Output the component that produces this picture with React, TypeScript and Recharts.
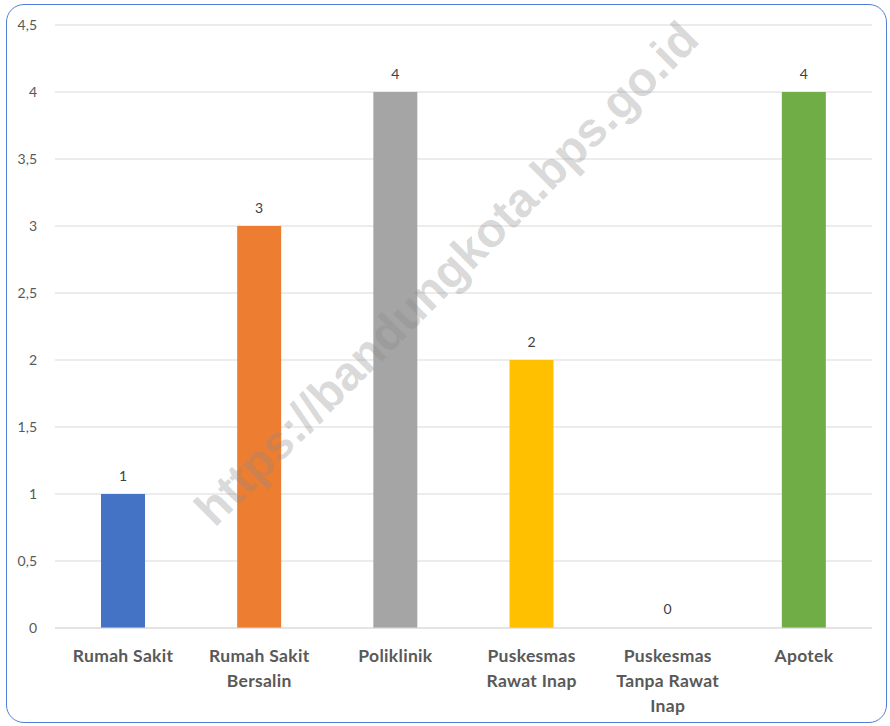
import React from "react";
import { BarChart, Bar, XAxis, YAxis, CartesianGrid, Cell, LabelList } from "recharts";

const categories: string[][] = [
  ["Rumah Sakit"],
  ["Rumah Sakit", "Bersalin"],
  ["Poliklinik"],
  ["Puskesmas", "Rawat Inap"],
  ["Puskesmas", "Tanpa Rawat", "Inap"],
  ["Apotek"],
];
const values: number[] = [1, 3, 4, 2, 0, 4];
const colors: string[] = ["#4472C4", "#ED7D31", "#A5A5A5", "#FFC000", "#5B9BD5", "#70AD47"];
const yTicks: number[] = [0, 0.5, 1, 1.5, 2, 2.5, 3, 3.5, 4, 4.5];
const watermark = "https://bandungkota.bps.go.id";

const data = categories.map((lines, i) => ({ name: lines.join(" "), lines, value: values[i] }));

const FONT = "Lato, 'Open Sans', sans-serif";

const XTick = (props: any) => {
  const { x, y, payload, index } = props;
  const lines = categories[index] ?? [payload.value];
  return (
    <text x={x} y={y + 26} textAnchor="middle" fill="#595959" fontFamily={FONT} fontWeight={700} fontSize={17.5} letterSpacing={0.3}>
      {lines.map((l: string, i: number) => (
        <tspan key={i} x={x} dy={i === 0 ? 0 : 25}>
          {l}
        </tspan>
      ))}
    </text>
  );
};

const ValueLabel = (props: any) => {
  const { x, y, width, value } = props;
  return (
    <text x={x + width / 2} y={y - 13} textAnchor="middle" fill="#404040" fontSize={14} fontFamily={FONT}>
      {value}
    </text>
  );
};

export default function App() {
  return (
    <div style={{ position: "absolute", left: 0, top: 0, width: 890, height: 726, background: "#fff" }}>
      <div
        style={{
          position: "absolute",
          left: 6,
          top: 4,
          width: 881,
          height: 719,
          border: "1.5px solid #4f7fd6",
          borderRadius: 18,
          boxSizing: "border-box",
        }}
      />
      <BarChart width={890} height={726} data={data} margin={{ top: 25, right: 18, left: 0, bottom: 0 }}>
        <CartesianGrid vertical={false} stroke="#d9d9d9" strokeWidth={1.2} />
        <XAxis
          dataKey="name"
          axisLine={{ stroke: "#d9d9d9", strokeWidth: 1.2 }}
          tickLine={false}
          height={98}
          interval={0}
          tick={<XTick />}
        />
        <YAxis
          width={55}
          domain={[0, 4.5]}
          ticks={yTicks}
          axisLine={false}
          tickLine={false}
          tickFormatter={(v: number) => String(v).replace(".", ",")}
          tick={{ fill: "#595959", fontSize: 14, fontFamily: FONT }}
          tickMargin={12}
        />
        <Bar dataKey="value" barSize={44} minPointSize={1} isAnimationActive={false}>
          {data.map((d, i) => (
            <Cell key={i} fill={colors[i]} fillOpacity={d.value === 0 ? 0 : 1} />
          ))}
          <LabelList dataKey="value" content={<ValueLabel />} />
        </Bar>
      </BarChart>
      <svg width={890} height={726} style={{ position: "absolute", left: 0, top: 0, pointerEvents: "none" }}>
        <text
          x={458}
          y={285}
          textAnchor="middle"
          transform="rotate(-45 458 285)"
          fontFamily="'Liberation Sans', Arial, sans-serif"
          fontWeight={700}
          fontSize={48}
          fill="#8a8a8a"
          fillOpacity={0.32}
        >
          {watermark}
        </text>
      </svg>
    </div>
  );
}
